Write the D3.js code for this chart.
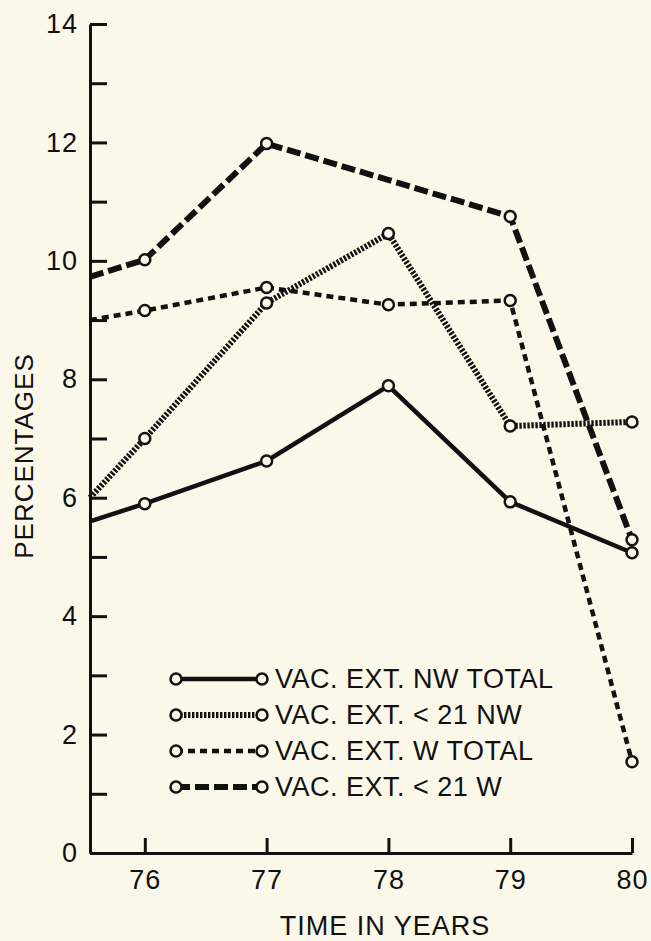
<!DOCTYPE html>
<html>
<head>
<meta charset="utf-8">
<script src="https://cdn.jsdelivr.net/npm/d3@7"></script>
<style>
  body { margin: 0; background: #fbf8ea; }
  text { font-family: "Liberation Sans", Arial, sans-serif; fill: #111; }
</style>
</head>
<body>
<div id="plot"></div>
<script>
var w = 651,
    h = 941;

// data
var years = [76, 77, 78, 79, 80];
var edgeYear = 75.55; // where the lines meet the y axis
var nwTotal   = [5.60, 5.90, 6.62, 7.89, 5.93, 5.07];
var nwUnder21 = [6.00, 7.00, 9.29, 10.46, 7.21, 7.28];
var wTotal    = [9.00, 9.16, 9.55, 9.26, 9.33, 1.54];
var wUnder21  = [9.73, 10.02, 11.98, null, 10.75, 5.29];
var seriesNames = ['VAC. EXT. NW TOTAL', 'VAC. EXT. < 21 NW', 'VAC. EXT. W TOTAL', 'VAC. EXT. < 21 W'];
var yTicks = d3.range(0, 15);

var styles = [
  {width: 4.5, dash: null},
  {width: 6, dash: '2.4,1.6'},
  {width: 4.5, dash: '7,5'},
  {width: 6, dash: '14,5'}
];

var series = [nwTotal, nwUnder21, wTotal, wUnder21].map(function(vals, i){
  var xs = [edgeYear].concat(years);
  return {
    name: seriesNames[i],
    style: styles[i],
    points: vals.map(function(v, j){ return {x: xs[j], y: v, edge: j === 0}; })
      .filter(function(d){ return d.y !== null; })
  };
});

var svg = d3.select('#plot').append('svg')
    .attr('width', w)
    .attr('height', h);

svg.append('rect').attr('width', w).attr('height', h).attr('fill', '#fbf8ea');

var x = d3.scaleLinear().domain([edgeYear, 80]).range([90, 632]);
var y = d3.scaleLinear().domain([0, 14]).range([853, 24]);

// axes
svg.append('g')
    .attr('transform', 'translate(90,0)')
    .call(d3.axisLeft(y)
      .tickValues(yTicks)
      .tickSizeInner(-17)
      .tickSizeOuter(0)
      .tickPadding(12)
      .tickFormat(function(d){ return d % 2 ? '' : d; }));

svg.append('g')
    .attr('transform', 'translate(0,853)')
    .call(d3.axisBottom(x)
      .tickValues(years)
      .tickSizeInner(-15)
      .tickSizeOuter(0)
      .tickPadding(17)
      .tickFormat(d3.format('d')));

svg.selectAll('.domain, .tick line')
    .attr('stroke', '#111')
    .attr('stroke-width', 3);
svg.selectAll('.tick text')
    .attr('fill', '#111')
    .style('font-size', '27px')
    .style('letter-spacing', '1px');

// lines
var line = d3.line()
    .x(function(d){ return x(d.x); })
    .y(function(d){ return y(d.y); });

svg.append('g').selectAll('path')
    .data(series)
    .enter()
    .append('path')
    .attr('d', function(d){ return line(d.points); })
    .attr('fill', 'none')
    .attr('stroke', '#111')
    .attr('stroke-width', function(d){ return d.style.width; })
    .attr('stroke-dasharray', function(d){ return d.style.dash; });

// markers
svg.append('g').selectAll('circle')
    .data(d3.merge(series.map(function(s){ return s.points.filter(function(p){ return !p.edge; }); })))
    .enter()
    .append('circle')
    .attr('cx', function(d){ return x(d.x); })
    .attr('cy', function(d){ return y(d.y); })
    .attr('r', 5.5)
    .attr('fill', '#fbf8ea')
    .attr('stroke', '#111')
    .attr('stroke-width', 2.5);

// legend
var legend = svg.append('g').selectAll('g')
    .data(series)
    .enter()
    .append('g')
    .attr('transform', function(d, i){ return 'translate(176,' + (679 + i * 36) + ')'; });

legend.append('line')
    .attr('x1', 0).attr('x2', 86)
    .attr('stroke', '#111')
    .attr('stroke-width', function(d){ return d.style.width; })
    .attr('stroke-dasharray', function(d){ return d.style.dash; });

legend.selectAll('circle')
    .data([0, 86])
    .enter()
    .append('circle')
    .attr('cx', function(d){ return d; })
    .attr('r', 5.5)
    .attr('fill', '#fbf8ea')
    .attr('stroke', '#111')
    .attr('stroke-width', 2.5);

legend.append('text')
    .attr('x', 99)
    .attr('y', 9)
    .style('font-size', '27px')
    .style('letter-spacing', '0.5px')
    .text(function(d){ return d.name; });

// axis titles
svg.append('text')
    .attr('transform', 'translate(33,456) rotate(-90)')
    .attr('text-anchor', 'middle')
    .style('font-size', '26px')
    .style('letter-spacing', '1px')
    .text('PERCENTAGES');

svg.append('text')
    .attr('x', 385)
    .attr('y', 935)
    .attr('text-anchor', 'middle')
    .style('font-size', '27px')
    .style('letter-spacing', '1px')
    .text('TIME IN YEARS');
</script>
</body>
</html>
